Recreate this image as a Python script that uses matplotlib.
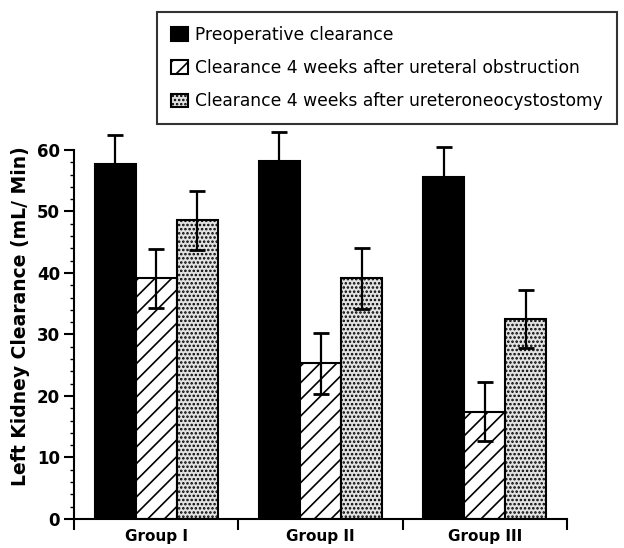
import matplotlib
matplotlib.use("Agg")
import matplotlib.pyplot as plt
import numpy as np
from matplotlib.ticker import FixedLocator

groups = ["Group I", "Group II", "Group III"]
series_labels = [
    "Preoperative clearance",
    "Clearance 4 weeks after ureteral obstruction",
    "Clearance 4 weeks after ureteroneocystostomy",
]
preop = [57.7, 58.2, 55.6]
preop_err = [4.7, 4.7, 4.9]
obstruct = [39.1, 25.3, 17.4]
obstruct_err = [4.8, 5.0, 4.8]
reimplant = [48.6, 39.1, 32.5]
reimplant_err = [4.8, 4.9, 4.7]

plt.rcParams["font.family"] = ["DejaVu Sans"]
plt.rcParams["hatch.linewidth"] = 1.2

fig = plt.figure(figsize=(6.24, 5.48), dpi=100)
ax = fig.add_axes([74 / 624, 1 - 519 / 548, 493 / 624, 406 / 548])

centers = np.arange(len(groups)) + 0.5
width = 0.25

styles = [
    dict(facecolor="black", edgecolor="black", hatch=None),
    dict(facecolor="white", edgecolor="black", hatch="//"),
    dict(facecolor="#e2e2e2", edgecolor="black", hatch="...."),
]
values = [preop, obstruct, reimplant]
errors = [preop_err, obstruct_err, reimplant_err]

handles = []
for k, (vals, errs, st) in enumerate(zip(values, errors, styles)):
    xs = centers + (k - 1) * width
    b = ax.bar(xs, vals, width, linewidth=1.5, label=series_labels[k], zorder=2, **st)
    handles.append(b)
    # lower half of the error bar is hidden inside the solid black bars
    lower = np.zeros(len(errs)) if k == 0 else errs
    ax.errorbar(xs, vals, yerr=[lower, errs], fmt="none", ecolor="black",
                elinewidth=1.6, capsize=6, capthick=2, zorder=3)

ax.set_xlim(0, 3)
ax.set_ylim(0, 66)

for s in ["top", "right"]:
    ax.spines[s].set_visible(False)
ax.spines["left"].set_bounds(0, 60)
ax.spines["left"].set_linewidth(1.5)
ax.spines["bottom"].set_linewidth(1.5)

ax.yaxis.set_major_locator(FixedLocator(np.arange(0, 61, 10)))
ax.yaxis.set_minor_locator(FixedLocator(np.arange(0, 61, 2)))
ax.tick_params(axis="y", which="major", length=7, width=1.5, labelsize=12, pad=3)
ax.tick_params(axis="y", which="minor", length=3, width=1)
for lbl in ax.get_yticklabels():
    lbl.set_fontweight("bold")

ax.xaxis.set_major_locator(FixedLocator([0, 1, 2, 3]))
ax.xaxis.set_minor_locator(FixedLocator(list(centers)))
ax.tick_params(axis="x", which="major", length=8, width=1.5, labelbottom=False)
ax.tick_params(axis="x", which="minor", length=0, labelsize=11, pad=7)
ax.set_xticklabels(groups, minor=True, fontweight="bold")

ax.set_ylabel("Left Kidney Clearance (mL/ Min)", fontsize=13.5, fontweight="bold", labelpad=5)

leg = fig.legend(handles=handles, labels=series_labels, loc="upper left",
                 bbox_to_anchor=(157 / 624, 1 - 12 / 548), fontsize=12.3,
                 frameon=True, fancybox=False, borderaxespad=0, borderpad=0.8,
                 handlelength=1.0, handleheight=0.85, handletextpad=0.45,
                 labelspacing=0.9)
leg.get_frame().set_edgecolor("black")
leg.get_frame().set_linewidth(1.5)

fig.savefig("out.png", dpi=100)
